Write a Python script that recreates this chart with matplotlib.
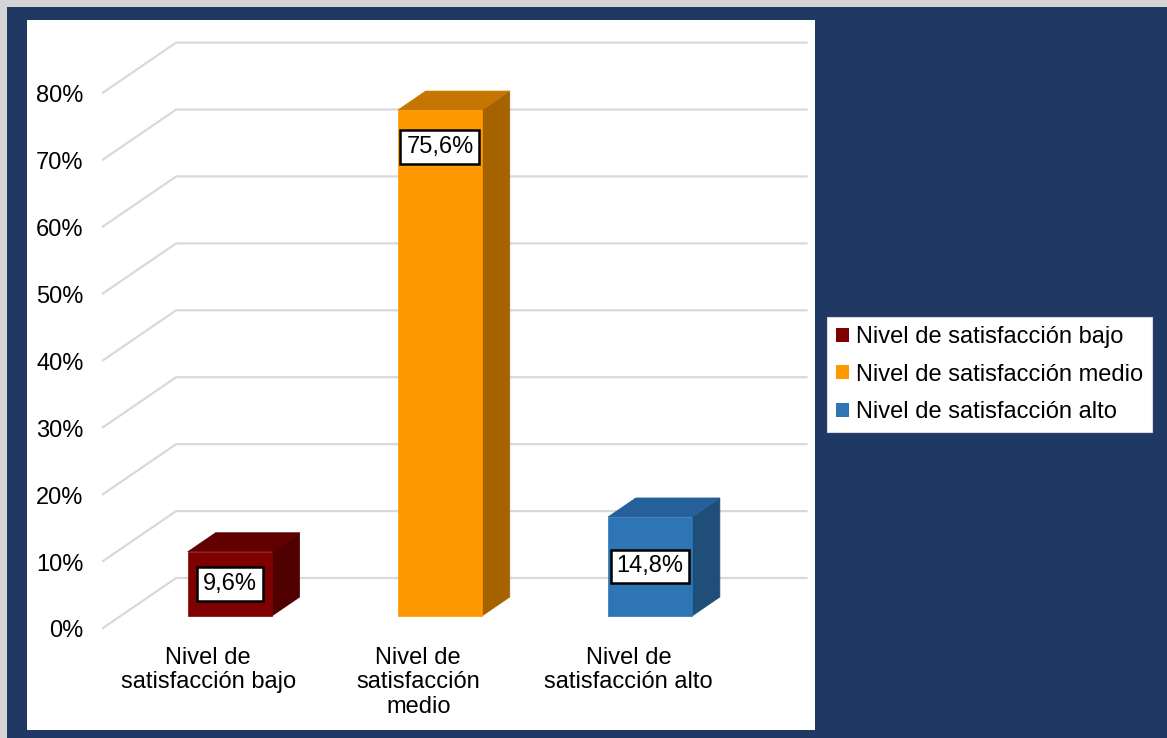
import matplotlib.pyplot as plt
from matplotlib.patches import Polygon, Rectangle, Patch

# --- datos ---
categorias = ["Nivel de satisfacción bajo", "Nivel de satisfacción medio", "Nivel de satisfacción alto"]
etiquetas_x = ["Nivel de\nsatisfacción bajo", "Nivel de\nsatisfacción\nmedio", "Nivel de\nsatisfacción alto"]
valores = [9.6, 75.6, 14.8]
etiquetas_valor = ["9,6%", "75,6%", "14,8%"]
ticks_y = [0, 10, 20, 30, 40, 50, 60, 70, 80]

# colores: frente, tapa, lateral
col_frente = ["#7f0000", "#ff9900", "#2e75b6"]
col_tapa = ["#620000", "#c47600", "#26609a"]
col_lado = ["#4f0000", "#a56300", "#1f4e79"]

NAVY = "#203864"
GRID = "#d9d9d9"
FUENTE = "Liberation Sans"
FS = 17

# profundidad del efecto 3D (unidades de datos)
DX, DY = 0.348, 7.47
D0, D1 = 0.24, 0.62
ANCHO = 0.4
DESPL = 0.02  # pequeno corrimiento de las barras respecto a la etiqueta


def proy(x, y, d):
    return (x + d * DX, y + d * DY)


W, H = 1167, 738
fig = plt.figure(figsize=(W / 100, H / 100), dpi=100, facecolor=NAVY)

# marco gris arriba/izquierda y panel blanco
for r in [Rectangle((0, 1 - 7 / H), 1, 7 / H, facecolor="#d4d4d4"),
          Rectangle((0, 0), 7 / W, 1, facecolor="#d4d4d4"),
          Rectangle((27 / W, 1 - 730 / H), (815 - 27) / W, (730 - 20) / H, facecolor="white")]:
    r.set_transform(fig.transFigure)
    r.set_edgecolor("none")
    r.set_zorder(-10)
    fig.patches.append(r)

ax = fig.add_axes([103 / W, (H - 628) / H, 703.5 / W, 585.4 / H])
ax.set_zorder(5)
ax.set_xlim(-0.5, 2.5 + DX)
ax.set_ylim(0, 80 + DY)
ax.axis("off")
ax.patch.set_alpha(0)

# lineas de cuadricula (pared lateral + fondo)
for g in ticks_y:
    p0 = proy(-0.5, g, 0)
    p1 = proy(-0.5, g, 1)
    p2 = proy(2.5, g, 1)
    ax.plot([p0[0], p1[0], p2[0]], [p0[1], p1[1], p2[1]], color=GRID, lw=1.6,
            zorder=1, clip_on=False, solid_joinstyle="miter")
    ax.annotate(f"{g}%", xy=p0, xytext=(-14, -2.5), textcoords="offset points",
                ha="right", va="center", fontsize=FS, family=FUENTE, color="#000000")

# barras 3D
for i, v in enumerate(valores):
    xc = i + DESPL
    xl, xr = xc - ANCHO / 2, xc + ANCHO / 2
    frente = [proy(xl, 0, D0), proy(xr, 0, D0), proy(xr, v, D0), proy(xl, v, D0)]
    tapa = [proy(xl, v, D0), proy(xr, v, D0), proy(xr, v, D1), proy(xl, v, D1)]
    lado = [proy(xr, 0, D0), proy(xr, 0, D1), proy(xr, v, D1), proy(xr, v, D0)]
    ax.add_patch(Polygon(lado, closed=True, facecolor=col_lado[i], edgecolor=col_lado[i], lw=0.5, zorder=3))
    ax.add_patch(Polygon(tapa, closed=True, facecolor=col_tapa[i], edgecolor=col_tapa[i], lw=0.5, zorder=3))
    ax.add_patch(Polygon(frente, closed=True, facecolor=col_frente[i], edgecolor=col_frente[i], lw=0.5, zorder=4))

    # etiqueta de valor
    y_lab = v / 2 if v < 50 else v - 5.5
    ax.text(*proy(xc, y_lab, D0), etiquetas_valor[i], ha="center", va="center",
            fontsize=FS, family=FUENTE, color="#000000", zorder=6,
            bbox=dict(boxstyle="square,pad=0.25", facecolor="white", edgecolor="black", lw=1.8))

    # etiqueta de categoria
    ax.annotate(etiquetas_x[i], xy=proy(i, 0, 0), xytext=(0, -13.5), textcoords="offset points",
                ha="center", va="top", multialignment="center", linespacing=1.16,
                fontsize=FS, family=FUENTE, color="#000000", annotation_clip=False)

# leyenda
handles = [Patch(facecolor=c, edgecolor="none") for c in col_frente]
leg = fig.legend(handles, categorias, loc="upper left",
                 bbox_to_anchor=(827 / W, 1 - 317 / H), borderaxespad=0,
                 prop={"family": FUENTE, "size": FS}, frameon=True, fancybox=False,
                 framealpha=1, handlelength=0.55, handleheight=0.55, handletextpad=0.3,
                 labelspacing=0.66, borderpad=0.38)
leg.get_frame().set_facecolor("white")
leg.get_frame().set_edgecolor("#d9d9d9")
leg.get_frame().set_linewidth(0.8)

fig.savefig("out.png", dpi=100, facecolor=NAVY)
